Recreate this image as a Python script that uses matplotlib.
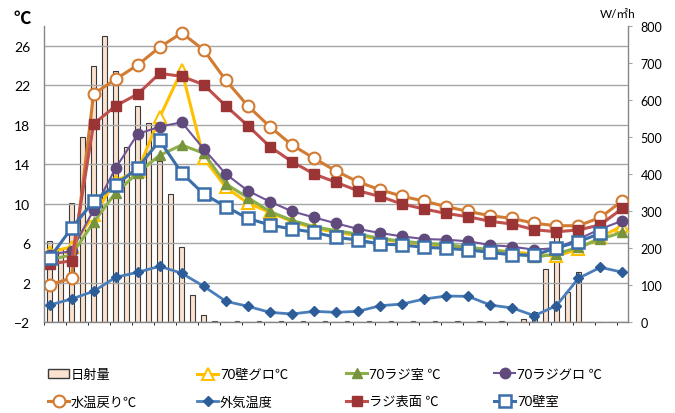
import numpy as np
import matplotlib
matplotlib.use('Agg')
import matplotlib.pyplot as plt
from matplotlib.lines import Line2D
from matplotlib.patches import Patch

plt.rcParams['font.family'] = ['Lato', 'Noto Sans CJK JP', 'DejaVu Sans']

# 30 min categories from 9:00 to 11:00 next day (53 slots), lines only every hour
n_slots = 53
xlabels = ['10:00', '12:00', '14:00', '16:00', '18:00', '20:00', '22:00',
           '0:00', '2:00', '4:00', '6:00', '8:00', '10:00']

# solar radiation W/m2h, one per 30 min
solar = [218, 200, 321, 500, 692, 772, 679, 472, 585, 537, 434, 346, 204, 74, 19, 2,
         0, 2, 0, 2, 0, 2, 0, 2, 0, 2, 0, 2, 0, 2, 0, 2, 0, 2, 0, 2, 0, 2, 0, 2, 0, 2,
         0, 8, 27, 143, 238, 80, 134, 0, 0, 0, 0]

# hourly temperatures 9:00 .. 11:00
water_ret = [1.75, 2.46, 21.1, 22.6, 24.05, 25.85, 27.3, 25.57, 22.5, 19.9, 17.8, 15.94, 14.6, 13.3,
             12.2, 11.4, 10.75, 10.25, 9.7, 9.2, 8.77, 8.5, 8.0, 7.76, 7.76, 8.6, 10.3]
rad_surf = [3.88, 4.2, 18.07, 19.9, 21.1, 23.2, 22.9, 22.05, 19.9, 17.9, 15.77, 14.25, 13.0, 12.16,
            11.3, 10.72, 9.96, 9.45, 9.0, 8.67, 8.2, 7.93, 7.35, 7.15, 7.32, 7.86, 9.52]
rad_glo = [4.8, 5.2, 9.35, 13.6, 17.05, 17.8, 18.24, 15.53, 13.0, 11.3, 10.2, 9.22, 8.6, 8.0,
           7.43, 7.02, 6.68, 6.41, 6.34, 6.18, 5.8, 5.63, 5.33, 5.5, 6.4, 7.43, 8.27]
wall_glo = [5.1, 5.6, 8.8, 12.3, 13.3, 18.75, 23.5, 14.6, 11.65, 10.07, 9.1, 8.2, 7.5, 7.1,
            6.75, 6.4, 6.1, 5.85, 5.7, 5.5, 5.3, 5.1, 4.9, 4.66, 5.4, 6.6, 7.76]
rad_room = [4.3, 4.8, 8.1, 11.1, 13.1, 14.9, 15.94, 15.1, 12.0, 10.6, 9.2, 8.3, 7.66, 7.25,
            6.9, 6.48, 6.18, 5.98, 5.85, 5.57, 5.33, 5.0, 4.56, 4.9, 5.57, 6.4, 7.1]
wall_room = [4.49, 7.5, 10.23, 11.9, 13.6, 16.4, 13.1, 10.97, 9.69, 8.5, 7.83, 7.43, 7.09, 6.58,
             6.31, 5.9, 5.8, 5.57, 5.47, 5.3, 5.06, 4.79, 4.79, 5.5, 6.14, 6.99, np.nan]
outdoor = [-0.28, 0.33, 1.11, 2.53, 3.04, 3.65, 2.94, 1.62, 0.1, -0.41, -1.02, -1.19, -0.92, -1.02,
           -0.92, -0.35, -0.18, 0.33, 0.63, 0.6, -0.28, -0.58, -1.36, -0.35, 2.43, 3.54, 3.04]

slots = np.arange(n_slots)
hours = slots[::2]

fig = plt.figure(figsize=(6.75, 4.14), dpi=100)
ax2 = fig.add_axes([44/675, 1-323/414, 584/675, 296/414])
ax = ax2.twinx()  # temperatures on top, left axis
ax.yaxis.tick_left()
ax2.yaxis.tick_right()
ax.set_zorder(ax2.get_zorder() + 1)
ax.patch.set_visible(False)

ax2.bar(slots, solar, width=0.42, color='#FBE2D0', edgecolor='#3a3a3a', linewidth=0.8)
ax2.set_ylim(0, 800)
ax2.set_yticks(range(0, 801, 100))

ax.set_ylim(-2, 28)
ax.set_yticks(range(-2, 27, 4))
ax.grid(axis='y', color='#a6a6a6', linewidth=1)
ax.set_axisbelow(True)

styles = [
    (wall_glo, '70壁グロ℃', dict(color='#FFC000', lw=2.2, marker='^', ms=8.5, mfc='white', mec='#FFC000', mew=1.5)),
    (rad_room, '70ラジ室 ℃', dict(color='#8CAF4C', lw=2.2, marker='^', ms=7.5, mfc='#77933C', mec='#77933C')),
    (rad_glo, '70ラジグロ ℃', dict(color='#6F5597', lw=1.5, marker='o', ms=7.5, mfc='#604A7B', mec='#604A7B')),
    (water_ret, '水温戻り℃', dict(color='#D27B32', lw=2.2, marker='o', ms=8.5, mfc='white', mec='#D27B32', mew=1.5)),
    (outdoor, '外気温度', dict(color='#4A7EBB', lw=2.0, marker='D', ms=5.5, mfc='#2C5D98', mec='#2C5D98')),
    (rad_surf, 'ラジ表面 ℃', dict(color='#C0504D', lw=2.2, marker='s', ms=7, mfc='#9B3434', mec='#9B3434')),
    (wall_room, '70壁室', dict(color='#3B6FA9', lw=2.2, marker='s', ms=8.5, mfc='white', mec='#3B6FA9', mew=1.8)),
]
handles = {}
for vals, name, kw in styles:
    handles[name] = ax.plot(hours, vals, label=name, **kw)[0]

ax.set_xlim(-0.5, n_slots - 0.5)
ax.set_xticks(np.arange(2, n_slots, 4))
ax.set_xticklabels(xlabels, rotation=45, ha='right', va='center', rotation_mode='anchor', fontsize=10.5)
ax.set_xticks(np.arange(-0.5, n_slots, 2), minor=True)
ax.tick_params(axis='x', which='major', length=0, pad=14)
ax.tick_params(axis='x', which='minor', length=5, color='#a6a6a6')
ax.tick_params(axis='y', length=0, pad=10, labelsize=10)
ax2.tick_params(axis='y', length=3, color='#a6a6a6', pad=6, labelsize=9)
ax2.tick_params(axis='x', length=0, labelbottom=False)

for a in (ax, ax2):
    for s in a.spines.values():
        s.set_visible(False)
ax.spines['left'].set_visible(True)
ax.spines['bottom'].set_visible(True)
ax2.spines['right'].set_visible(True)
for s in (ax.spines['left'], ax.spines['bottom'], ax2.spines['right']):
    s.set_color('#868686')
    s.set_linewidth(1)

fig.text(22/675, 1-19/414, '℃', fontsize=12.5, fontweight='bold', ha='center', va='center')
fig.text(618/675, 1-14/414, 'W/㎡h', fontsize=8.5, ha='center', va='center')

bar_h = Patch(facecolor='#FBE2D0', edgecolor='#3a3a3a', linewidth=1)
cols = [
    [(bar_h, '日射量'), (handles['水温戻り℃'], '水温戻り℃')],
    [(handles['70壁グロ℃'], '70壁グロ℃'), (handles['外気温度'], '外気温度')],
    [(handles['70ラジ室 ℃'], '70ラジ室 ℃'), (handles['ラジ表面 ℃'], 'ラジ表面 ℃')],
    [(handles['70ラジグロ ℃'], '70ラジグロ ℃'), (handles['70壁室'], '70壁室')],
]
col_x = [48, 197, 346, 494]
for cx, col in zip(col_x, cols):
    leg = fig.legend([h for h, _ in col], [t for _, t in col], loc='upper left',
                     bbox_to_anchor=(cx/675, 1-369/414), frameon=False, fontsize=9.5,
                     handlelength=1.6, handletextpad=0.15, labelspacing=1.15,
                     borderpad=0, borderaxespad=0, numpoints=1)

fig.savefig('out.png', dpi=100)
